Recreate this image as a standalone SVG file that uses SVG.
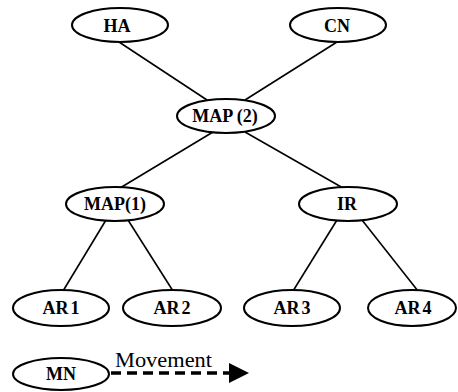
<svg xmlns="http://www.w3.org/2000/svg" width="458" height="392" viewBox="0 0 458 392">
<defs>
<style>
.n ellipse{fill:#fff;stroke:#000;stroke-width:2}
.n text{font-family:"Liberation Serif","Times New Roman",serif;font-weight:bold;font-size:18px;text-anchor:middle;fill:#000}
.c line{stroke:#000;stroke-width:1.6}
.c .mv{stroke-width:3.5;stroke-dasharray:10,6}
</style>
<marker id="ah" markerWidth="20" markerHeight="20" refX="0" refY="10" orient="auto" markerUnits="userSpaceOnUse" viewBox="0 0 20 20">
<path d="M0,0 L20,10 L0,20 Z" fill="#000"/>
</marker>
</defs>
<g class="c">
<line x1="119" y1="42" x2="207" y2="100"/>
<line x1="337" y1="42" x2="245" y2="100"/>
<line x1="213" y1="132" x2="120" y2="188"/>
<line x1="245" y1="132" x2="343" y2="188"/>
<line x1="106" y1="220" x2="63" y2="291"/>
<line x1="128" y1="220" x2="173" y2="291"/>
<line x1="337" y1="220" x2="293" y2="291"/>
<line x1="362" y1="220" x2="418" y2="291"/>
<line class="mv" x1="111" y1="373" x2="229" y2="373" marker-end="url(#ah)"/>
</g>
<g id="HA" class="n"><ellipse cx="120" cy="25" rx="48" ry="17"/><text x="117" y="32">HA</text></g>
<g id="CN" class="n"><ellipse cx="338" cy="25" rx="48" ry="17"/><text x="337" y="32">CN</text></g>
<g id="MAP2" class="n"><ellipse cx="226" cy="116" rx="49" ry="17"/><text x="225" y="122">MAP (2)</text></g>
<g id="MAP1" class="n"><ellipse cx="115" cy="204" rx="49" ry="17"/><text x="115" y="210">MAP(1)</text></g>
<g id="IR" class="n"><ellipse cx="348" cy="204" rx="49" ry="17"/><text x="347" y="210">IR</text></g>
<g id="AR1" class="n"><ellipse cx="61" cy="308" rx="48" ry="18"/><text x="61" y="314">AR<tspan dx="2">1</tspan></text></g>
<g id="AR2" class="n"><ellipse cx="172" cy="308" rx="49" ry="18"/><text x="172" y="314">AR<tspan dx="2">2</tspan></text></g>
<g id="AR3" class="n"><ellipse cx="292" cy="308" rx="48" ry="18"/><text x="292" y="314">AR<tspan dx="2">3</tspan></text></g>
<g id="AR4" class="n"><ellipse cx="412" cy="308" rx="44" ry="18"/><text x="413" y="314">AR<tspan dx="2">4</tspan></text></g>
<g id="MN" class="n"><ellipse cx="61" cy="374" rx="48" ry="16"/><text x="61" y="380">MN</text></g>
<text x="115" y="367" font-family="'Liberation Serif','Times New Roman',serif" font-size="20" textLength="97" lengthAdjust="spacingAndGlyphs" fill="#000">Movement</text>
</svg>
